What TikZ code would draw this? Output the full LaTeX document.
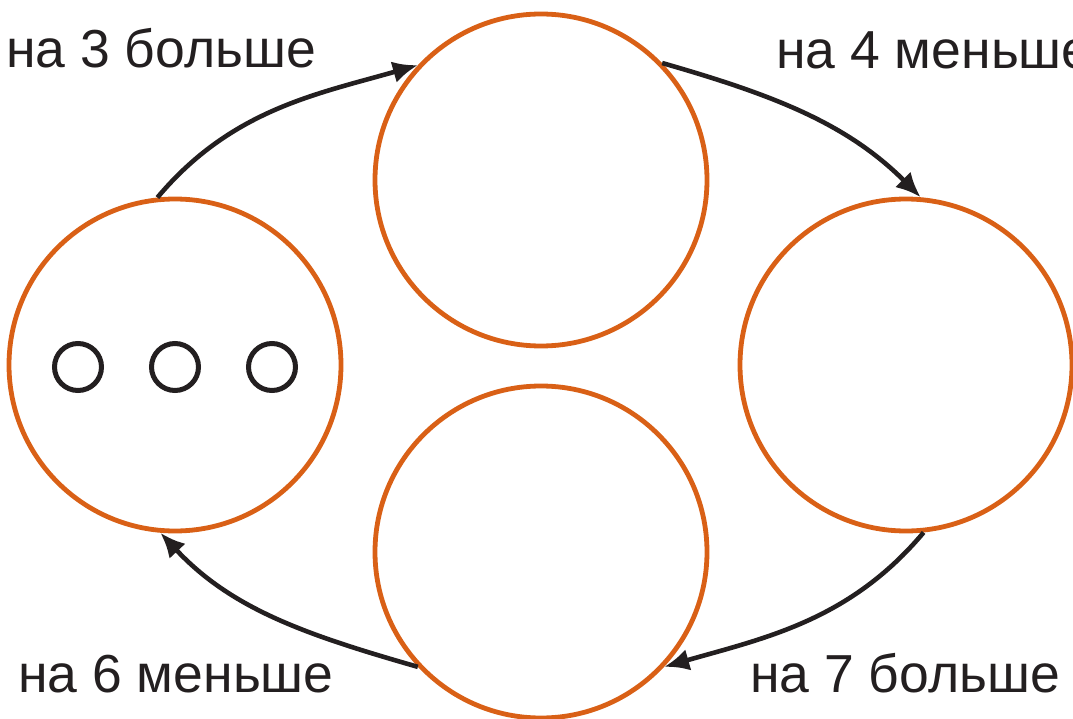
\documentclass[tikz,border=0pt]{standalone}
\usepackage{fontspec}
\setmainfont{Liberation Sans}
\usetikzlibrary{arrows.meta}
\definecolor{ring}{RGB}{217,96,22}
\definecolor{ink}{RGB}{35,31,32}
\begin{document}
\begin{tikzpicture}[x=1pt,y=1pt,
  bigcirc/.style={circle,draw=ring,line width=4.8pt,minimum size=332pt,inner sep=0pt},
  dot/.style={circle,draw=ink,line width=5pt,minimum size=47pt,inner sep=0pt},
  arr/.style={draw=ink,line width=4.6pt,-{Latex[length=25pt,width=22pt]}},
  lab/.style={anchor=base west,text=ink,inner sep=0pt,font=\fontsize{53.5}{60}\selectfont}]
\useasboundingbox (0,0) rectangle (1073,-719);
\clip (0,0) rectangle (1073,-719);
\node[bigcirc] (L) at (175,-365) {};
\node[bigcirc] (T) at (541,-180) {};
\node[bigcirc] (R) at (906,-365) {};
\node[bigcirc] (B) at (541,-552) {};
\node[dot] (d1) at (78,-367) {};
\node[dot] (d2) at (175,-367) {};
\node[dot] (d3) at (272,-367) {};
\draw[arr] (L.96) .. controls +(50:115) and +(196:105) .. (T.137);
\draw[arr] (T.44) .. controls +(-16:115) and +(135:105) .. (R.85);
\draw[arr] (R.-84) .. controls +(-130:115) and +(16:105) .. (B.-43);
\draw[arr] (B.223) .. controls +(164:115) and +(-47:105) .. (L.265);
\node[lab] (t1) at (6,-68) {на 3 больше};
\node[lab] (t2) at (776,-69) {на 4 меньше};
\node[lab] (t3) at (18,-692) {на 6 меньше};
\node[lab] (t4) at (750,-692) {на 7 больше};
\end{tikzpicture}
\end{document}
